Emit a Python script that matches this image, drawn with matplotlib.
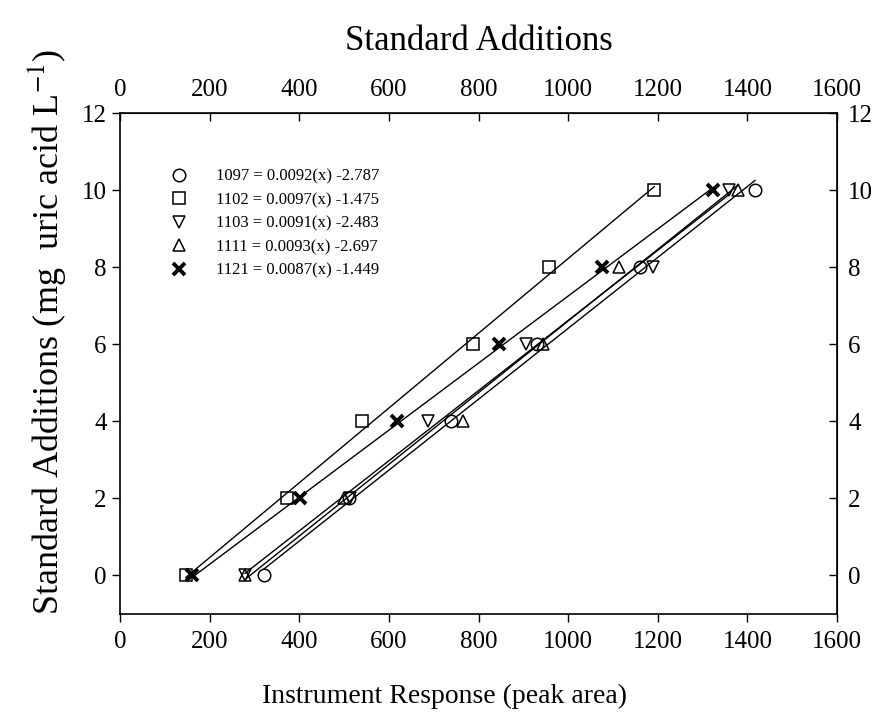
import matplotlib
matplotlib.use("Agg")
import matplotlib.pyplot as plt
import numpy as np

plt.rcParams["font.family"] = ["Liberation Serif", "DejaVu Serif"]
plt.rcParams["mathtext.fontset"] = "stix"

# standard additions (mg uric acid per L)
additions = [0, 2, 4, 6, 8, 10]

# instrument response (peak area) for each sample
resp_1097 = [321, 510, 739, 931, 1161, 1417]
resp_1102 = [147, 373, 540, 787, 958, 1192]
resp_1103 = [279, 514, 688, 905, 1190, 1360]
resp_1111 = [279, 500, 766, 943, 1114, 1380]
resp_1121 = [161, 402, 618, 846, 1075, 1324]

sample_names = ["1097", "1102", "1103", "1111", "1121"]
slopes = [0.0092, 0.0097, 0.0091, 0.0093, 0.0087]
intercepts = [-2.787, -1.475, -2.483, -2.697, -1.449]

responses = [resp_1097, resp_1102, resp_1103, resp_1111, resp_1121]
markers = ["o", "s", "v", "^", "x"]

fig = plt.figure(figsize=(8.91, 7.25), dpi=100)
ax = fig.add_axes([0.1347, 0.1531, 0.8047, 0.691])

for i in range(len(sample_names)):
    xs = np.array(responses[i], dtype=float)
    # fitted line, drawn over the range of the data
    line_x = np.array([xs.min(), xs.max()])
    line_y = slopes[i] * line_x + intercepts[i]
    ax.plot(line_x, line_y, color="black", linewidth=1.0, zorder=2)

    label = sample_names[i] + " = " + str(slopes[i]) + "(x) " + str(intercepts[i])
    if markers[i] == "x":
        ax.plot(xs, additions, linestyle="none", marker="x", markersize=8,
                markeredgewidth=2.8, color="black", label=label, zorder=3)
    else:
        ax.plot(xs, additions, linestyle="none", marker=markers[i], markersize=9,
                markerfacecolor="none", markeredgecolor="black",
                markeredgewidth=1.1, label=label, zorder=3)

ax.set_xlim(0, 1600)
ax.set_ylim(-1, 12)
ax.set_xticks(range(0, 1601, 200))
ax.set_yticks(range(0, 13, 2))
ax.tick_params(direction="out", length=6, width=1, labelsize=18)
ax.tick_params(axis="x", pad=6.5)

for side in ["top", "bottom", "left", "right"]:
    ax.spines[side].set_linewidth(1.2)

ax.set_xlabel("Instrument Response (peak area)", fontsize=20)
ax.xaxis.set_label_coords(0.452, -0.139)
ax.set_ylabel("Standard Additions (mg  uric acid L$^{-1}$)", fontsize=26, labelpad=10)
ax.yaxis.label.set_y(0.563)

ax_top = ax.secondary_xaxis("top")
ax_top.set_xticks(range(0, 1601, 200))
ax_top.tick_params(direction="in", length=6, width=1, labelsize=18, pad=8.5)
ax_top.set_xlabel("Standard Additions", fontsize=25, labelpad=21)

ax_right = ax.secondary_yaxis("right")
ax_right.set_yticks(range(0, 13, 2))
ax_right.tick_params(direction="in", length=6, width=1, labelsize=18, pad=8)

ax.legend(loc="upper left", bbox_to_anchor=(0.05, 0.902), frameon=False,
          fontsize=12, handletextpad=1.2, labelspacing=0.45, borderaxespad=0)

fig.savefig("out.png", dpi=100)
